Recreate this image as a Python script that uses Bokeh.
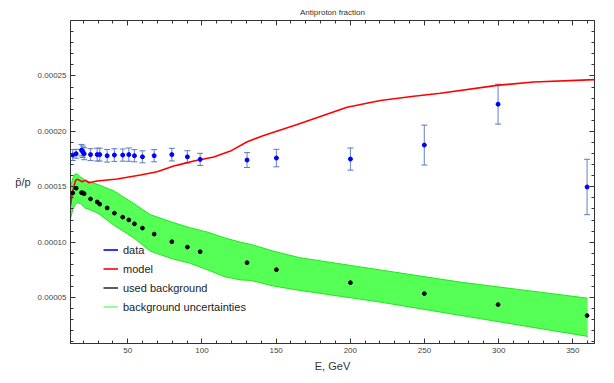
import numpy as np
from bokeh.plotting import figure
from bokeh.models import (ColumnDataSource, Whisker, TeeHead, Legend, LegendItem,
                          LinearAxis, SingleIntervalTicker, PrintfTickFormatter,
                          CustomJSTickFormatter, Range1d)
from bokeh.embed import file_html
from bokeh.resources import INLINE

# Measured antiproton/proton ratio
energy = [12.9, 15.2, 18.8, 19.7, 20.6, 24.9, 29.4, 31.1, 36.1, 41.0, 46.6, 50.7,
          54.5, 59.9, 67.8, 79.7, 90.2, 98.8, 130.4, 150.2, 200.1, 249.9, 299.6, 359.6]
ratio = [1.786e-4, 1.798e-4, 1.830e-4, 1.816e-4, 1.798e-4, 1.790e-4, 1.790e-4, 1.790e-4,
         1.780e-4, 1.786e-4, 1.786e-4, 1.790e-4, 1.780e-4, 1.770e-4, 1.780e-4, 1.790e-4,
         1.770e-4, 1.747e-4, 1.741e-4, 1.759e-4, 1.750e-4, 1.876e-4, 2.245e-4, 1.498e-4]
ratio_err = [4.9e-6, 4.0e-6, 5.2e-6, 5.2e-6, 5.4e-6, 5.4e-6, 5.8e-6, 5.8e-6,
             5.7e-6, 5.7e-6, 5.5e-6, 6.0e-6, 5.5e-6, 5.4e-6, 5.5e-6, 5.7e-6,
             5.5e-6, 5.5e-6, 6.7e-6, 7.9e-6, 1.0e-5, 1.8e-5, 1.8e-5, 2.5e-5]

# Secondary background used in the fit
background = [1.444e-4, 1.487e-4, 1.447e-4, 1.444e-4, 1.438e-4, 1.390e-4, 1.363e-4, 1.343e-4,
              1.309e-4, 1.262e-4, 1.226e-4, 1.201e-4, 1.166e-4, 1.127e-4, 1.073e-4, 1.004e-4,
              9.56e-5, 9.14e-5, 8.15e-5, 7.52e-5, 6.35e-5, 5.36e-5, 4.37e-5, 3.38e-5]

# Background uncertainty band
band_E = [11.4, 13.0, 14.5, 16.0, 18.0, 21.0, 25.0, 30.0, 41.0, 54.0, 65.0, 80.0,
          92.0, 104.0, 115.0, 126.0, 133.0, 148.0, 166.0, 220.0, 274.0, 360.0]
band_hi = [1.49e-4, 1.58e-4, 1.615e-4, 1.615e-4, 1.59e-4, 1.56e-4, 1.54e-4, 1.52e-4,
           1.46e-4, 1.35e-4, 1.25e-4, 1.18e-4, 1.13e-4, 1.09e-4, 1.04e-4, 1.00e-4,
           9.8e-5, 9.2e-5, 8.6e-5, 7.5e-5, 6.4e-5, 4.95e-5]
band_lo = [1.21e-4, 1.30e-4, 1.34e-4, 1.355e-4, 1.35e-4, 1.31e-4, 1.29e-4, 1.26e-4,
           1.15e-4, 1.04e-4, 9.2e-5, 8.5e-5, 8.1e-5, 7.5e-5, 6.9e-5, 6.6e-5,
           6.55e-5, 6.05e-5, 5.65e-5, 4.6e-5, 3.4e-5, 1.5e-5]

# Model prediction
model_E = [11.4, 12.7, 14.8, 16.3, 19.3, 21.5, 23.7, 29.4, 42.9, 58.6, 69.8, 81.0, 85.5,
           94.5, 108.0, 119.2, 130.5, 141.6, 164.2, 186.6, 197.8, 220.3, 242.7, 260.7,
           298.9, 323.6, 364.6]
model = [1.33e-4, 1.45e-4, 1.558e-4, 1.567e-4, 1.546e-4, 1.558e-4, 1.537e-4, 1.552e-4,
         1.570e-4, 1.606e-4, 1.636e-4, 1.687e-4, 1.702e-4, 1.732e-4, 1.768e-4, 1.822e-4,
         1.906e-4, 1.963e-4, 2.062e-4, 2.166e-4, 2.218e-4, 2.278e-4, 2.317e-4, 2.344e-4,
         2.415e-4, 2.445e-4, 2.467e-4]

FONT = "Liberation Sans"
INK = "#333333"

r = np.array(ratio)
e = np.array(ratio_err)
data_src = ColumnDataSource(dict(E=energy, r=ratio, up=r + e, lo=r - e, bg=background))
band_src = ColumnDataSource(dict(E=band_E, hi=band_hi, lo=band_lo))
model_src = ColumnDataSource(dict(E=model_E, m=model))

p = figure(width=614, height=383, output_backend="svg", toolbar_location=None,
           x_range=Range1d(11.4, 364.6), y_range=Range1d(8.6e-6, 3.0e-4),
           min_border_left=70, min_border_right=20, min_border_top=20,
           min_border_bottom=40)
p.grid.visible = False
p.outline_line_color = INK
p.background_fill_color = "white"
p.border_fill_color = "white"

p.title.text = "Antiproton fraction"
p.title.align = "center"
p.title.text_font = FONT
p.title.text_font_size = "8px"
p.title.text_font_style = "normal"
p.title.text_color = INK
p.title.standoff = 7

xticker = SingleIntervalTicker(interval=50, num_minor_ticks=5)
yticker = SingleIntervalTicker(interval=5e-5, num_minor_ticks=5)


def style_axis(ax, labelled):
    ax.axis_line_color = INK
    ax.major_tick_line_color = INK
    ax.minor_tick_line_color = INK
    ax.major_tick_in = 5
    ax.major_tick_out = 0
    ax.minor_tick_in = 3
    ax.minor_tick_out = 0
    ax.major_label_standoff = 4
    ax.major_label_text_font = FONT
    ax.major_label_text_font_size = "8px"
    ax.major_label_text_color = "#444444"
    if not labelled:
        ax.formatter = CustomJSTickFormatter(code="return ''")
        ax.major_label_standoff = 0


xa = p.xaxis[0]
xa.ticker = xticker
style_axis(xa, True)
xa.axis_label = "E, GeV"
xa.axis_label_text_font = FONT
xa.axis_label_text_font_size = "11px"
xa.axis_label_text_font_style = "normal"
xa.axis_label_text_color = INK
xa.axis_label_standoff = 4

ya = p.yaxis[0]
ya.ticker = yticker
ya.formatter = PrintfTickFormatter(format="%.5f")
style_axis(ya, True)
ya.axis_label = "p\u0304/p"
ya.axis_label_orientation = "horizontal"
ya.axis_label_text_font = FONT
ya.axis_label_text_font_size = "11px"
ya.axis_label_text_font_style = "normal"
ya.axis_label_text_color = INK
ya.axis_label_standoff = 4

top = LinearAxis(ticker=xticker)
style_axis(top, False)
p.add_layout(top, "above")
right = LinearAxis(ticker=yticker)
style_axis(right, False)
p.add_layout(right, "right")

# uncertainty band
p.varea(x="E", y1="lo", y2="hi", source=band_src, fill_color="#55ff55")
p.line(x="E", y="hi", source=band_src, line_color="#1ee61e", line_width=1)
p.line(x="E", y="lo", source=band_src, line_color="#1ee61e", line_width=1)

# model
model_r = p.line(x="E", y="m", source=model_src, line_color="#ff0000", line_width=1.6)

# data with error bars
whisk = Whisker(source=data_src, base="E", upper="up", lower="lo",
                line_color="#7b98cd", line_width=1.2,
                upper_head=TeeHead(size=6, line_color="#5a7ab8", line_width=1),
                lower_head=TeeHead(size=6, line_color="#5a7ab8", line_width=1))
p.add_layout(whisk)
p.scatter(x="E", y="bg", source=data_src, marker="circle", size=3.8,
          fill_color="black", line_color="black")
p.scatter(x="E", y="r", source=data_src, marker="circle", size=4,
          fill_color="#0000ff", line_color="#0000ff")

# legend keys: line renderers holding a single undefined point
nan = [float("nan")]
data_key = p.line(x=nan, y=nan, line_color="#0000ff", line_width=1.6)
bg_key = p.line(x=nan, y=nan, line_color="#333333", line_width=1.6)
band_key = p.line(x=nan, y=nan, line_color="#33ff33", line_width=1)

legend = Legend(items=[LegendItem(label="data", renderers=[data_key]),
                       LegendItem(label="model", renderers=[model_r]),
                       LegendItem(label="used background", renderers=[bg_key]),
                       LegendItem(label="background uncertainties", renderers=[band_key])],
                location=(33, 27), padding=0, margin=0, spacing=0,
                glyph_width=15, glyph_height=19, label_height=19, label_standoff=5,
                label_text_font=FONT, label_text_font_size="11px",
                label_text_color="#222222",
                background_fill_alpha=0, border_line_color=None)
p.add_layout(legend)

open("out.html", "w").write(file_html(p, INLINE))
